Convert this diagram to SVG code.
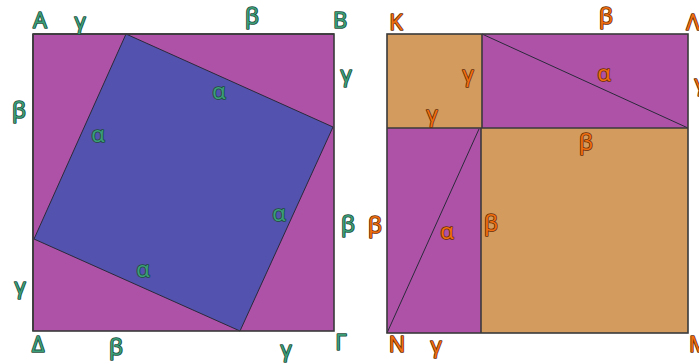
<svg xmlns="http://www.w3.org/2000/svg" width="699" height="364" viewBox="0 0 699 364">
<style>
.p{fill:#AE52A8}
.b{fill:#5352AE}
.o{fill:#D39B5E}
.ln{stroke:#2a2a3a;stroke-width:1;fill:none}
.edge{stroke:#3a3a3a;stroke-width:1.6;fill:none}
text{font-family:"Open Sans","DejaVu Sans",sans-serif;font-size:22px;text-anchor:middle;paint-order:stroke;stroke-width:1.6px;stroke-linejoin:round}
.g{fill:#3C9E78;stroke:#1E4D3C}
.r{fill:#F06E10;stroke:#6A2E05}
</style>
<g id="left-square">
<rect class="p" x="33" y="34" width="301" height="297"/>
<polygon class="b" points="126,34 333,127 240,331 34,239"/>
<polygon class="ln" points="126,34 333,127 240,331 34,239"/>
<rect class="edge" x="33" y="34" width="301" height="297" stroke="#777"/>
<line class="edge" x1="33" y1="34" x2="33" y2="331" stroke-width="2"/>
<line class="edge" x1="33" y1="34" x2="334" y2="34" stroke-width="2"/>
</g>
<g id="left-labels">
<text class="g" x="40" y="28">Α</text>
<text class="g" x="80" y="29">γ</text>
<text class="g" x="252" y="24">β</text>
<text class="g" x="340" y="28">Β</text>
<text class="g" x="346" y="82">γ</text>
<text class="g" x="19" y="118">β</text>
<text class="g" x="219" y="99">α</text>
<text class="g" x="98" y="142">α</text>
<text class="g" x="279" y="221">α</text>
<text class="g" x="348" y="232">β</text>
<text class="g" x="143" y="277">α</text>
<text class="g" x="20" y="294">γ</text>
<text class="g" x="38" y="352">Δ</text>
<text class="g" x="116" y="355">β</text>
<text class="g" x="286" y="357">γ</text>
<text class="g" x="341" y="350">Γ</text>
</g>
<g id="right-square">
<rect class="o" x="387" y="34" width="95" height="94"/>
<rect class="p" x="482" y="34" width="206" height="94"/>
<rect class="p" x="387" y="128" width="94" height="205"/>
<rect class="o" x="481" y="128" width="207" height="205"/>
<line class="ln" x1="482" y1="34" x2="688" y2="128"/>
<line class="ln" x1="387" y1="333" x2="479" y2="129"/>
<line class="edge" x1="482" y1="34" x2="482" y2="128"/>
<line class="edge" x1="387" y1="128" x2="688" y2="128" stroke-width="2"/>
<line class="edge" x1="481" y1="128" x2="481" y2="333"/>
<rect class="edge" x="387" y="34" width="301" height="299" stroke="#555"/>
</g>
<g id="right-labels">
<text class="r" x="396" y="30">Κ</text>
<text class="r" x="606" y="24">β</text>
<text class="r" x="693" y="30">Λ</text>
<text class="r" x="468" y="82">γ</text>
<text class="r" x="604" y="81">α</text>
<text class="r" x="700" y="91">γ</text>
<text class="r" x="432" y="122">γ</text>
<text class="r" x="586" y="150">β</text>
<text class="r" x="375" y="233">β</text>
<text class="r" x="447" y="239">α</text>
<text class="r" x="491" y="231">β</text>
<text class="r" x="397" y="352">Ν</text>
<text class="r" x="436" y="353">γ</text>
<text class="r" x="699" y="352">Μ</text>
</g>
</svg>
